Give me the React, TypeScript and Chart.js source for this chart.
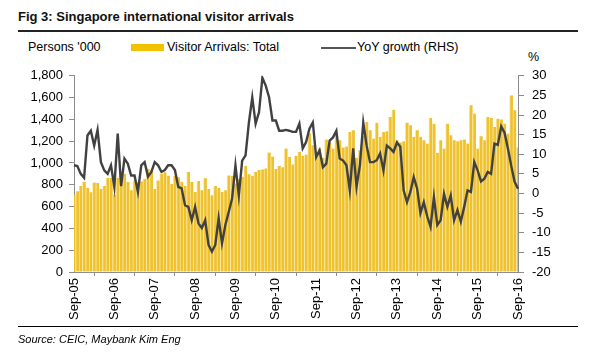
import React, { useEffect, useRef } from 'react';
import { Chart, registerables } from 'chart.js';

Chart.register(...registerables);

// ---- categories: monthly, Sep-05 .. Sep-16 ----
const MONTH_NAMES = ['Jan', 'Feb', 'Mar', 'Apr', 'May', 'Jun', 'Jul', 'Aug', 'Sep', 'Oct', 'Nov', 'Dec'];
const START_YEAR = 2005;
const START_MONTH = 8; // Sep
const MONTH_COUNT = 133;
const categories: string[] = [];
for (let i = 0; i < MONTH_COUNT; i++) {
  const m = (START_MONTH + i) % 12;
  const y = START_YEAR + Math.floor((START_MONTH + i) / 12);
  categories.push(MONTH_NAMES[m] + '-' + String(y % 100).padStart(2, '0'));
}

// ---- Visitor arrivals, persons '000 (LHS) ----
const arrivals2005 = [704, 740, 789, 826];
const arrivals2006 = [773, 731, 820, 817, 762, 789, 862, 862, 710, 862, 880, 901];
const arrivals2007 = [826, 750, 840, 826, 831, 854, 947, 932, 762, 840, 901, 916];
const arrivals2008 = [884, 810, 884, 870, 826, 789, 917, 826, 733, 836, 750, 860];
const arrivals2009 = [762, 704, 789, 773, 733, 750, 886, 883, 813, 853, 874, 975];
const arrivals2010 = [896, 883, 920, 935, 941, 950, 1096, 1060, 944, 975, 960, 1133];
const arrivals2011 = [1057, 987, 1066, 1103, 1066, 1078, 1270, 1163, 1066, 1133, 1048, 1215];
const arrivals2012 = [1187, 1133, 1270, 1209, 1142, 1151, 1285, 1300, 1048, 1117, 1250, 1377];
const arrivals2013 = [1300, 1224, 1370, 1240, 1285, 1291, 1422, 1489, 1209, 1187, 1200, 1370];
const arrivals2014 = [1346, 1240, 1300, 1240, 1209, 1178, 1413, 1361, 1093, 1209, 1133, 1361];
const arrivals2015 = [1255, 1209, 1200, 1209, 1215, 1178, 1529, 1453, 1133, 1246, 1209, 1422];
const arrivals2016 = [1413, 1331, 1407, 1400, 1361, 1270, 1620, 1483, 1142];

// ---- YoY growth, % (RHS) ----
const growth2005 = [7.2, 7.0, 5.0, 4.0];
const growth2006 = [14.8, 16.0, 12.2, 16.2, 8.0, 5.9, 5.0, 7.2, 1.7, 15.3, 1.9, 8.9];
const growth2007 = [7.6, 4.6, 4.6, 0.4, 7.2, 8.0, 4.3, 5.5, 8.0, 7.2, 5.5, 6.0];
const growth2008 = [7.2, 7.2, 6.0, 1.7, 1.3, -3.0, -3.4, -6.8, -3.4, -7.6, -8.8, -6.8];
const growth2009 = [-13.1, -14.8, -13.1, -6.3, -12.7, -8.0, -4.7, -1.3, 7.2, -0.5, 8.4, 9.7];
const growth2010 = [18.1, 24.5, 17.8, 20.7, 29.5, 27.5, 24.5, 18.6, 18.6, 16.0, 16.0, 16.2];
const growth2011 = [16.0, 15.7, 15.7, 17.8, 11.5, 13.1, 16.5, 18.1, 9.3, 11.0, 6.7, 7.6];
const growth2012 = [13.5, 14.3, 16.0, 8.9, 8.4, 7.2, 0.8, 11.5, 1.7, 7.2, 18.1, 12.2];
const growth2013 = [8.0, 8.0, 8.5, 10.2, 5.9, 12.2, 11.5, 10.6, 13.0, 11.9, 0.8, -2.2];
const growth2014 = [0.4, 4.2, 1.3, -5.0, -2.2, -5.8, -8.5, -0.9, -8.0, -6.8, -0.1, -3.4];
const growth2015 = [-0.5, -6.8, -4.2, -7.2, -3.4, 0.8, 0.4, 8.0, 5.9, 3.1, 3.8, 5.5];
const growth2016 = [5.0, 12.7, 12.4, 17.1, 15.5, 11.5, 7.0, 3.0, 1.2];

const arrivals = [
  ...arrivals2005, ...arrivals2006, ...arrivals2007, ...arrivals2008, ...arrivals2009, ...arrivals2010,
  ...arrivals2011, ...arrivals2012, ...arrivals2013, ...arrivals2014, ...arrivals2015, ...arrivals2016,
];
const growth = [
  ...growth2005, ...growth2006, ...growth2007, ...growth2008, ...growth2009, ...growth2010,
  ...growth2011, ...growth2012, ...growth2013, ...growth2014, ...growth2015, ...growth2016,
];

const LEFT_MIN = 0;
const LEFT_MAX = 1800;
const LEFT_STEP = 200;
const RIGHT_MIN = -20;
const RIGHT_MAX = 30;
const RIGHT_STEP = 5;
const LABEL_EVERY = 12;

const TITLE = 'Fig 3: Singapore international visitor arrivals';
const LEFT_UNIT = "Persons '000";
const RIGHT_UNIT = '%';
const BAR_LABEL = 'Visitor Arrivals: Total';
const LINE_LABEL = 'YoY growth (RHS)';
const SOURCE = 'Source: CEIC, Maybank Kim Eng';

const BAR_COLOR = '#EFC12C';
const BAR_EDGE = '#F8E6A2';
const LEGEND_BAR = '#F2C200';
const LINE_COLOR = '#414141';
const AXIS_COLOR = '#8c8c8c';
const FONT = '"Liberation Sans", Arial, sans-serif';

export default function App() {
  const canvasRef = useRef<HTMLCanvasElement | null>(null);

  useEffect(() => {
    if (!canvasRef.current) return;
    const chart = new Chart(canvasRef.current, {
      type: 'bar',
      data: {
        labels: categories,
        datasets: [
          {
            type: 'line',
            label: LINE_LABEL,
            data: growth,
            yAxisID: 'y1',
            borderColor: LINE_COLOR,
            borderWidth: 2.4,
            pointRadius: 0,
            tension: 0,
            order: 1,
          } as any,
          {
            type: 'bar',
            label: BAR_LABEL,
            data: arrivals,
            yAxisID: 'y',
            backgroundColor: BAR_COLOR,
            borderColor: BAR_EDGE,
            borderWidth: { left: 1, right: 0, top: 0, bottom: 0 },
            borderSkipped: false,
            barPercentage: 1,
            categoryPercentage: 1,
            order: 2,
          } as any,
        ],
      },
      options: {
        animation: false,
        responsive: false,
        maintainAspectRatio: false,
        layout: { padding: { top: 15, left: 0, right: 0, bottom: 0 } },
        plugins: { legend: { display: false }, tooltip: { enabled: false } },
        scales: {
          x: {
            type: 'category',
            offset: false,
            border: { display: true, color: AXIS_COLOR, width: 1 },
            grid: {
              display: true,
              drawOnChartArea: false,
              drawTicks: true,
              tickLength: 4,
              color: AXIS_COLOR,
            },
            ticks: {
              autoSkip: false,
              maxRotation: 90,
              minRotation: 90,
              padding: 2,
              color: '#000',
              font: { family: FONT, size: 13 },
              callback: (_v: any, i: number) => (i % LABEL_EVERY === 0 ? categories[i] : null),
            },
            afterFit: (s: any) => {
              s.height = 58;
            },
          },
          y: {
            type: 'linear',
            position: 'left',
            min: LEFT_MIN,
            max: LEFT_MAX,
            border: { display: true, color: AXIS_COLOR, width: 1 },
            grid: { display: true, drawOnChartArea: false, drawTicks: true, tickLength: 5, color: AXIS_COLOR },
            ticks: {
              stepSize: LEFT_STEP,
              padding: 6,
              color: '#000',
              font: { family: FONT, size: 13 },
              callback: (v: any) => Number(v).toLocaleString('en-US'),
            },
            afterFit: (s: any) => {
              s.width = 74;
            },
          },
          y1: {
            type: 'linear',
            position: 'right',
            min: RIGHT_MIN,
            max: RIGHT_MAX,
            border: { display: true, color: AXIS_COLOR, width: 1 },
            grid: { display: true, drawOnChartArea: false, drawTicks: true, tickLength: 6, color: AXIS_COLOR },
            ticks: {
              stepSize: RIGHT_STEP,
              padding: 8,
              color: '#000',
              font: { family: FONT, size: 13 },
            },
            afterFit: (s: any) => {
              s.width = 82;
            },
          },
        },
      },
    });
    return () => chart.destroy();
  }, []);

  const text: React.CSSProperties = { position: 'absolute', fontFamily: FONT, color: '#000', whiteSpace: 'nowrap', lineHeight: 1 };

  return (
    <div style={{ position: 'fixed', left: 0, top: 0, width: 600, height: 360, background: '#fff', overflow: 'hidden' }}>
      <div style={{ ...text, left: 18, top: 10, fontSize: 13, fontWeight: 'bold', color: '#111' }}>{TITLE}</div>
      <div style={{ position: 'absolute', left: 18, top: 30, width: 560, height: 2, background: '#222' }} />
      <div style={{ ...text, left: 28, top: 41, fontSize: 12.5 }}>{LEFT_UNIT}</div>
      <div style={{ position: 'absolute', left: 131, top: 44, width: 33, height: 7, background: LEGEND_BAR }} />
      <div style={{ ...text, left: 167, top: 41, fontSize: 12.5 }}>{BAR_LABEL}</div>
      <div style={{ position: 'absolute', left: 321, top: 47, width: 35, height: 2, background: '#555' }} />
      <div style={{ ...text, left: 357, top: 41, fontSize: 12.5 }}>{LINE_LABEL}</div>
      <div style={{ ...text, left: 528, top: 51, fontSize: 12.5 }}>{RIGHT_UNIT}</div>
      <canvas ref={canvasRef} width={600} height={270} style={{ position: 'absolute', left: 0, top: 60, width: 600, height: 270 }} />
      <div style={{ position: 'absolute', left: 18, top: 326, width: 560, height: 1, background: '#000' }} />
      <div style={{ ...text, left: 18, top: 334, fontSize: 11, fontStyle: 'italic' }}>{SOURCE}</div>
    </div>
  );
}
